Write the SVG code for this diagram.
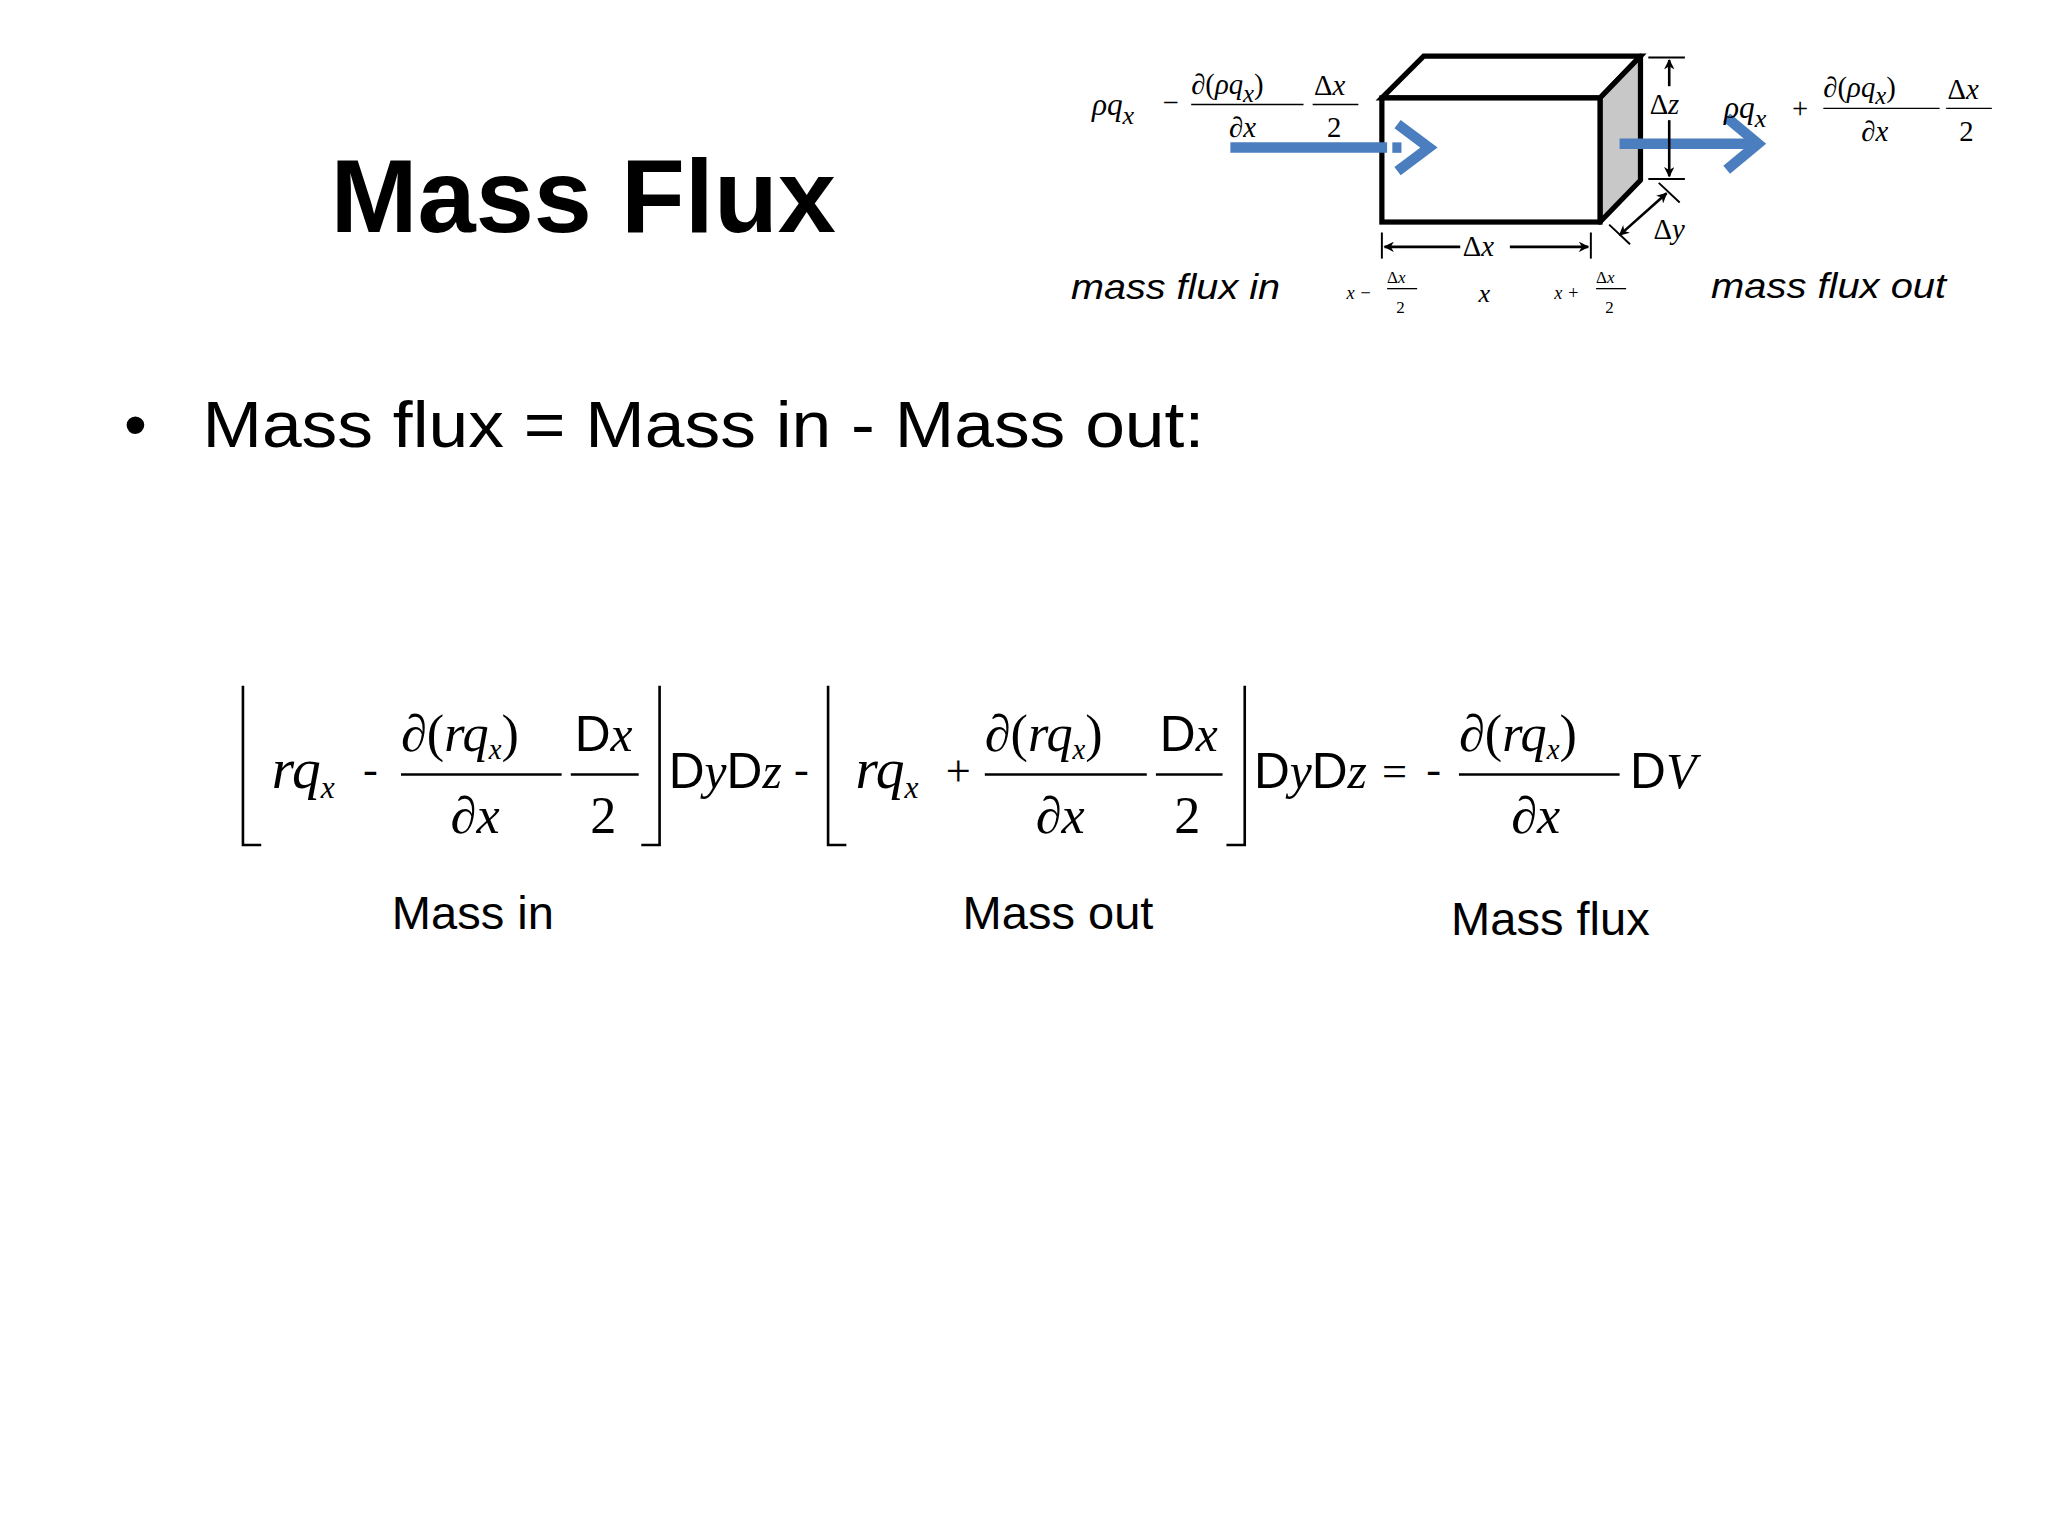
<svg xmlns="http://www.w3.org/2000/svg" width="2048" height="1536" viewBox="0 0 2048 1536">
<style>
.t{font-family:"Liberation Sans",Arial,sans-serif;fill:#000}
.s{font-family:"Liberation Serif","Times New Roman",serif;fill:#000}
.i{font-style:italic}
.ln{stroke:#000;fill:none}
.blue{stroke:#4a7ebf;fill:none}
</style>
<defs>
<marker id="ah" viewBox="0 0 10 10" refX="9" refY="5" markerWidth="8" markerHeight="8" orient="auto-start-reverse" markerUnits="userSpaceOnUse"><path d="M0,0 L10,5 L0,10 L3,5 z" fill="#000"/></marker>
</defs>
<rect width="2048" height="1536" fill="#fff"/>
<g transform="scale(1.30612)">
<g id="title"><text class="t" x="253" y="178" font-size="80" font-weight="bold" textLength="387" lengthAdjust="spacingAndGlyphs">Mass Flux</text></g>
<g id="bullet">
<text class="t" x="95" y="342" font-size="50">•</text>
<text class="t" x="155" y="342" font-size="50" textLength="767" lengthAdjust="spacingAndGlyphs">Mass flux = Mass in - Mass out:</text>
</g>
<g id="cube">
<polygon points="1058,75 1090,43 1256,43 1225,75" fill="#fff" stroke="#000" stroke-width="4"/>
<polygon points="1225,75 1256,43 1256,138 1225,170" fill="#c8c8c8" stroke="#000" stroke-width="4" stroke-linejoin="round"/>
<rect x="1058" y="75" width="167" height="95" fill="#fff" stroke="#000" stroke-width="4"/>
</g>
<g id="connectors">
<line class="blue" x1="942" y1="113" x2="1062" y2="113" stroke-width="8"/>
<line class="blue" x1="1066" y1="113" x2="1073" y2="113" stroke-width="8"/>
<polyline class="blue" points="1070,95 1094,113 1070,131" stroke-width="8"/>
<line class="blue" x1="1240" y1="110" x2="1344" y2="110" stroke-width="8"/>
<polyline class="blue" points="1322,90 1346,110 1322,130" stroke-width="8"/>
<line class="ln" x1="1262" y1="44" x2="1290" y2="44" stroke-width="1.5"/>
<line class="ln" x1="1262" y1="137" x2="1290" y2="137" stroke-width="1.5"/>
<line class="ln" x1="1278" y1="66" x2="1278" y2="46" stroke-width="2" marker-end="url(#ah)"/>
<line class="ln" x1="1278" y1="92" x2="1278" y2="135" stroke-width="2" marker-end="url(#ah)"/>
<line class="ln" x1="1058" y1="178" x2="1058" y2="198" stroke-width="1.5"/>
<line class="ln" x1="1218" y1="178" x2="1218" y2="198" stroke-width="1.5"/>
<line class="ln" x1="1118" y1="189" x2="1060" y2="189" stroke-width="2" marker-end="url(#ah)"/>
<line class="ln" x1="1156" y1="189" x2="1216" y2="189" stroke-width="2" marker-end="url(#ah)"/>
<line class="ln" x1="1270" y1="140" x2="1286" y2="155" stroke-width="1.5"/>
<line class="ln" x1="1232" y1="172" x2="1248" y2="187" stroke-width="1.5"/>
<line class="ln" x1="1240" y1="180" x2="1276" y2="148" stroke-width="2" marker-start="url(#ah)" marker-end="url(#ah)"/>
</g>
<g id="cube-labels" class="s">
<text class="s" x="1263" y="87" font-size="22">Δ<tspan class="i">z</tspan></text>
<text class="s" x="1266" y="183" font-size="22">Δ<tspan class="i">y</tspan></text>
<text class="s" x="1120" y="196" font-size="22">Δ<tspan class="i">x</tspan></text>
<text class="s i" x="1031" y="229" font-size="14">x −</text>
<line class="ln" x1="1062" y1="221" x2="1085" y2="221" stroke-width="1"/>
<text class="s" x="1062" y="217" font-size="13">Δ<tspan class="i">x</tspan></text>
<text class="s" x="1069" y="240" font-size="13">2</text>
<text class="s i" x="1132" y="231" font-size="20">x</text>
<text class="s i" x="1190" y="229" font-size="14">x +</text>
<line class="ln" x1="1222" y1="221" x2="1245" y2="221" stroke-width="1"/>
<text class="s" x="1222" y="217" font-size="13">Δ<tspan class="i">x</tspan></text>
<text class="s" x="1229" y="240" font-size="13">2</text>
<text class="t i" x="820" y="229" font-size="27" textLength="160" lengthAdjust="spacingAndGlyphs">mass flux in</text>
<text class="t i" x="1310" y="228" font-size="27" textLength="180" lengthAdjust="spacingAndGlyphs">mass flux out</text>
</g>
<g id="flux-in-formula">
<text class="s i" x="836" y="88" font-size="24">ρq<tspan font-size="20" dy="7">x</tspan></text>
<text class="s" x="890" y="86" font-size="22">−</text>
<text class="s" x="912" y="72" font-size="22">∂(<tspan class="i">ρq</tspan><tspan class="i" font-size="19" dy="6">x</tspan><tspan dy="-6">)</tspan></text>
<line class="ln" x1="912" y1="80" x2="998" y2="80" stroke-width="1"/>
<text class="s" x="941" y="105" font-size="22">∂<tspan class="i">x</tspan></text>
<line class="ln" x1="1005" y1="80" x2="1040" y2="80" stroke-width="1"/>
<text class="s" x="1006" y="73" font-size="22">Δ<tspan class="i">x</tspan></text>
<text class="s" x="1016" y="105" font-size="22">2</text>
</g>
<g id="flux-out-formula">
<text class="s i" x="1320" y="90" font-size="24">ρq<tspan font-size="20" dy="7">x</tspan></text>
<text class="s" x="1372" y="90" font-size="22">+</text>
<text class="s" x="1396" y="74" font-size="22">∂(<tspan class="i">ρq</tspan><tspan class="i" font-size="19" dy="6">x</tspan><tspan dy="-6">)</tspan></text>
<line class="ln" x1="1396" y1="83" x2="1485" y2="83" stroke-width="1"/>
<text class="s" x="1425" y="108" font-size="22">∂<tspan class="i">x</tspan></text>
<line class="ln" x1="1490" y1="83" x2="1525" y2="83" stroke-width="1"/>
<text class="s" x="1491" y="76" font-size="22">Δ<tspan class="i">x</tspan></text>
<text class="s" x="1500" y="108" font-size="22">2</text>
</g>
<g id="equation">
<path class="ln" d="M186,525 V647 H200 M505,525 V647 H491 M634,525 V647 H648 M953,525 V647 H939" stroke-width="2"/>
<text class="s i" x="208" y="603" font-size="44">rq<tspan font-size="24" dy="8">x</tspan></text>
<text class="s" x="278" y="600" font-size="34">-</text>
<text class="s" x="307" y="575" font-size="40">∂(<tspan class="i">rq</tspan><tspan class="i" font-size="22" dy="6">x</tspan><tspan dy="-6">)</tspan></text>
<line class="ln" x1="307" y1="593" x2="430" y2="593" stroke-width="2"/>
<text class="s" x="345" y="638" font-size="40">∂<tspan class="i">x</tspan></text>
<line class="ln" x1="437" y1="593" x2="489" y2="593" stroke-width="2"/>
<text class="t" x="440" y="575" font-size="38">D<tspan class="s i">x</tspan></text>
<text class="s" x="452" y="638" font-size="40">2</text>
<text class="t" x="512" y="603" font-size="38">D<tspan class="s i">y</tspan>D<tspan class="s i">z</tspan></text>
<text class="s" x="608" y="600" font-size="34">-</text>
<text class="s i" x="655" y="603" font-size="44">rq<tspan font-size="24" dy="8">x</tspan></text>
<text class="s" x="724" y="602" font-size="34">+</text>
<text class="s" x="754" y="575" font-size="40">∂(<tspan class="i">rq</tspan><tspan class="i" font-size="22" dy="6">x</tspan><tspan dy="-6">)</tspan></text>
<line class="ln" x1="754" y1="593" x2="878" y2="593" stroke-width="2"/>
<text class="s" x="793" y="638" font-size="40">∂<tspan class="i">x</tspan></text>
<line class="ln" x1="885" y1="593" x2="936" y2="593" stroke-width="2"/>
<text class="t" x="888" y="575" font-size="38">D<tspan class="s i">x</tspan></text>
<text class="s" x="899" y="638" font-size="40">2</text>
<text class="t" x="960" y="603" font-size="38">D<tspan class="s i">y</tspan>D<tspan class="s i">z</tspan></text>
<text class="s" x="1058" y="602" font-size="34">=</text>
<text class="s" x="1092" y="600" font-size="34">-</text>
<text class="s" x="1117" y="575" font-size="40">∂(<tspan class="i">rq</tspan><tspan class="i" font-size="22" dy="6">x</tspan><tspan dy="-6">)</tspan></text>
<line class="ln" x1="1117" y1="593" x2="1240" y2="593" stroke-width="2"/>
<text class="s" x="1157" y="638" font-size="40">∂<tspan class="i">x</tspan></text>
<text class="t" x="1248" y="603" font-size="38">D<tspan class="s i">V</tspan></text>
</g>
<g id="labels">
<text class="t" x="300" y="711" font-size="36">Mass in</text>
<text class="t" x="737" y="711" font-size="36">Mass out</text>
<text class="t" x="1111" y="716" font-size="36">Mass flux</text>
</g>
</g>
</svg>
